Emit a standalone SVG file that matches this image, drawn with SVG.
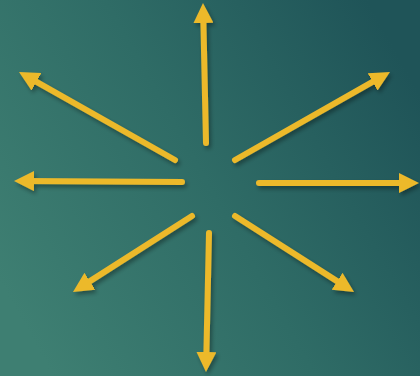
<svg xmlns="http://www.w3.org/2000/svg" width="420" height="376" viewBox="0 0 420 376">
  <defs>
    <linearGradient id="bg" x1="0" y1="0.75" x2="1" y2="0.25">
      <stop offset="0" stop-color="#3e7f72"/>
      <stop offset="0.5" stop-color="#2f6c66"/>
      <stop offset="1" stop-color="#1f5458"/>
    </linearGradient>
    <marker id="head" viewBox="0 0 20 20" refX="10" refY="10" markerWidth="20" markerHeight="20" markerUnits="userSpaceOnUse" orient="auto">
      <path d="M0,0 L20,10 L0,20 z" fill="#ecb92c"/>
    </marker>
    <filter id="sh" x="-20%" y="-20%" width="140%" height="140%">
      <feDropShadow dx="2" dy="3" stdDeviation="2" flood-color="#000" flood-opacity="0.35"/>
    </filter>
  </defs>
  <style>
    .arrow { stroke: #ecb92c; stroke-width: 6; stroke-linecap: round; fill: none; marker-end: url(#head); }
  </style>
  <rect width="420" height="376" fill="url(#bg)"/>
  <g id="connectors" filter="url(#sh)">
    <line class="arrow" x1="206" y1="143" x2="203.2" y2="13"/>
    <line class="arrow" x1="175" y1="160" x2="27.7" y2="76.9"/>
    <line class="arrow" x1="235" y1="160" x2="381.3" y2="76.9"/>
    <line class="arrow" x1="182" y1="182" x2="24" y2="181"/>
    <line class="arrow" x1="259" y1="183" x2="409" y2="183"/>
    <line class="arrow" x1="192" y1="216" x2="81.4" y2="286.6"/>
    <line class="arrow" x1="235" y1="216" x2="345.6" y2="286.6"/>
    <line class="arrow" x1="209" y1="233" x2="206.2" y2="362"/>
  </g>
</svg>
